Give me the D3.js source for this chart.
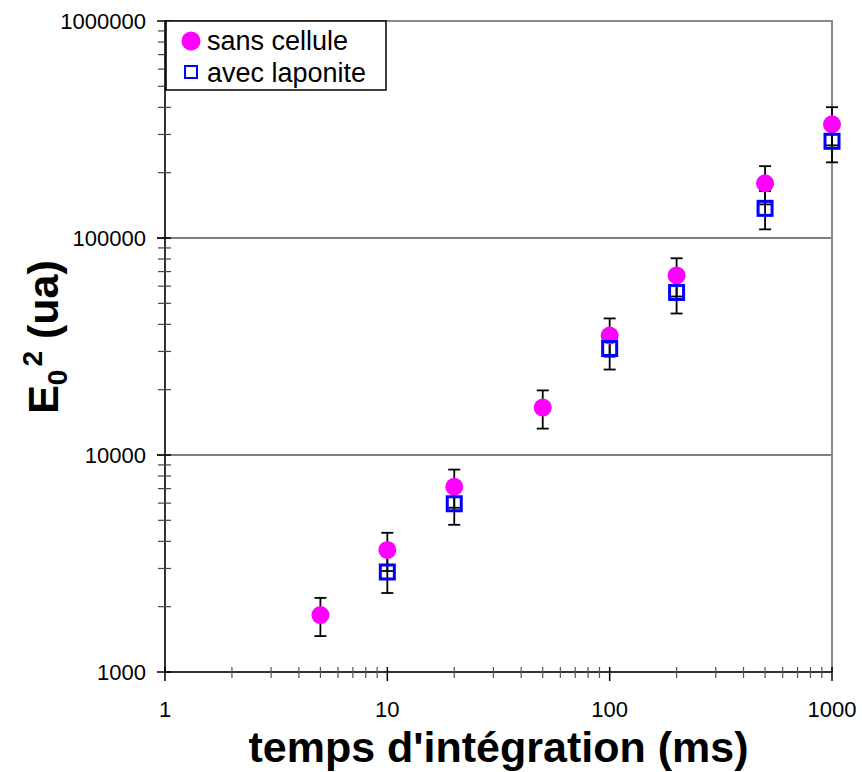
<!DOCTYPE html>
<html>
<head>
<meta charset="utf-8">
<script src="https://cdn.jsdelivr.net/npm/d3@7"></script>
<style>
  body { margin: 0; background: #fff; }
  svg { font-family: Arial, "Liberation Sans", sans-serif; }
</style>
</head>
<body>
<div id="Chart"></div>
<script>
// data
var times = [5, 10, 20, 50, 100, 200, 500, 1000];
var sansCellule = [1830, 3650, 7140, 16540, 35500, 67200, 178600, 334000];
var laponiteTimes = [10, 20, 100, 200, 500, 1000];
var avecLaponite = [2890, 5960, 30960, 56100, 137000, 279000];
var errPercent = 20;
var xTicks = [1, 10, 100, 1000];
var yTicks = [1000, 10000, 100000, 1000000];
var seriesNames = ["sans cellule", "avec laponite"];

var margin = {top: 21, right: 30, bottom: 100, left: 165},
    width = 862 - margin.left - margin.right,
    height = 772 - margin.top - margin.bottom;

var svg = d3.select("#Chart")
            .append("svg")
            .attr("width", 862)
            .attr("height", 772);

var g = svg.append("g")
           .attr("transform", "translate(" + margin.left + "," + margin.top + ")");

var x = d3.scaleLog().domain([1, 1000]).range([0, width]);
var y = d3.scaleLog().domain([1000, 1000000]).range([height, 0]);

// minor tick values
var minorX = [], minorY = [];
[1, 10, 100].forEach(function(d){ for (var k = 2; k < 10; k++) minorX.push(d * k); });
[1000, 10000, 100000].forEach(function(d){ for (var k = 2; k < 10; k++) minorY.push(d * k); });

// gridlines at 10000 and 100000
g.selectAll("line.grid")
 .data(yTicks.slice(1, 3))
 .enter().append("line")
 .attr("class", "grid")
 .attr("x1", -8).attr("x2", width)
 .attr("y1", d => y(d)).attr("y2", d => y(d))
 .attr("stroke", "#000").attr("stroke-width", 1.2);

// plot border top / right
g.append("path")
 .attr("d", "M0," + y(1000000) + "H" + x(1000) + "V" + y(1000))
 .attr("fill", "none").attr("stroke", "#8a8a8a").attr("stroke-width", 2);

// axes
g.append("line").attr("x1", 0).attr("x2", 0).attr("y1", 0).attr("y2", height)
 .attr("stroke", "#333").attr("stroke-width", 2);
g.append("line").attr("x1", 0).attr("x2", width).attr("y1", height).attr("y2", height)
 .attr("stroke", "#333").attr("stroke-width", 2);

g.selectAll("line.ymin").data(minorY).enter().append("line")
 .attr("x1", -7).attr("x2", 6).attr("y1", d => y(d)).attr("y2", d => y(d))
 .attr("stroke", "#444").attr("stroke-width", 1.2);
g.selectAll("line.ymaj").data(yTicks).enter().append("line")
 .attr("x1", -8).attr("x2", 6).attr("y1", d => y(d)).attr("y2", d => y(d))
 .attr("stroke", "#000").attr("stroke-width", 1.5);
g.selectAll("line.xmin").data(minorX).enter().append("line")
 .attr("y1", height - 5).attr("y2", height + 6).attr("x1", d => x(d)).attr("x2", d => x(d))
 .attr("stroke", "#555").attr("stroke-width", 1.2);
g.selectAll("line.xmaj").data(xTicks).enter().append("line")
 .attr("y1", height - 5).attr("y2", height + 9).attr("x1", d => x(d)).attr("x2", d => x(d))
 .attr("stroke", "#000").attr("stroke-width", 1.5);

// tick labels
g.selectAll("text.ylab").data(yTicks).enter().append("text")
 .attr("x", -19).attr("y", d => y(d)).attr("dy", "0.36em")
 .attr("text-anchor", "end").style("font-size", "22px")
 .text(d => d);
g.selectAll("text.xlab").data(xTicks).enter().append("text")
 .attr("x", d => x(d)).attr("y", height + 45)
 .attr("text-anchor", "middle").style("font-size", "22px")
 .text(d => d);

// error bars
var errData = times.map((t, i) => ({x: t, v: sansCellule[i]}))
  .concat(laponiteTimes.map((t, i) => ({x: t, v: avecLaponite[i]})));
var eb = g.selectAll("g.err").data(errData).enter().append("g")
 .attr("stroke", "#000").attr("stroke-width", 1.8);
eb.append("line")
 .attr("x1", d => x(d.x)).attr("x2", d => x(d.x))
 .attr("y1", d => y(d.v * (1 + errPercent / 100))).attr("y2", d => y(d.v * (1 - errPercent / 100)));
eb.append("line")
 .attr("x1", d => x(d.x) - 6).attr("x2", d => x(d.x) + 6)
 .attr("y1", d => y(d.v * (1 + errPercent / 100))).attr("y2", d => y(d.v * (1 + errPercent / 100)));
eb.append("line")
 .attr("x1", d => x(d.x) - 6).attr("x2", d => x(d.x) + 6)
 .attr("y1", d => y(d.v * (1 - errPercent / 100))).attr("y2", d => y(d.v * (1 - errPercent / 100)));

// markers
g.selectAll("circle.sans").data(times).enter().append("circle")
 .attr("cx", d => x(d)).attr("cy", (d, i) => y(sansCellule[i]))
 .attr("r", 9).attr("fill", "#ff00ff");
g.selectAll("rect.lap").data(laponiteTimes).enter().append("rect")
 .attr("x", d => x(d) - 7).attr("y", (d, i) => y(avecLaponite[i]) - 7)
 .attr("width", 14).attr("height", 14)
 .attr("fill", "none").attr("stroke", "#0000ff").attr("stroke-width", 3);

// legend
var legend = svg.append("g");
legend.append("rect")
 .attr("x", 166).attr("y", 21).attr("width", 220).attr("height", 69)
 .attr("fill", "#fff").attr("stroke", "#000").attr("stroke-width", 1.5);
legend.append("circle").attr("cx", 191).attr("cy", 41).attr("r", 9.5).attr("fill", "#ff00ff");
legend.append("rect").attr("x", 185).attr("y", 66).attr("width", 12).attr("height", 12)
 .attr("fill", "none").attr("stroke", "#0000ff").attr("stroke-width", 2);
legend.selectAll("text").data(seriesNames).enter().append("text")
 .attr("x", 207).attr("y", (d, i) => 50 + i * 32)
 .style("font-size", "27px")
 .text(d => d);

// axis titles
svg.append("text")
 .attr("x", margin.left + width / 2).attr("y", 762)
 .attr("text-anchor", "middle")
 .style("font-size", "43px").style("font-weight", "bold")
 .text("temps d'intégration (ms)");

var yt = svg.append("text")
 .attr("transform", "translate(58,337) rotate(-90)")
 .attr("text-anchor", "middle")
 .style("font-size", "43px").style("font-weight", "bold");
yt.append("tspan").text("E");
yt.append("tspan").attr("dy", 9).style("font-size", "28px").text("0");
yt.append("tspan").attr("dx", 3).attr("dy", -25).style("font-size", "28px").text("2");
yt.append("tspan").attr("dy", 16).text(" (ua)");
</script>
</body>
</html>
